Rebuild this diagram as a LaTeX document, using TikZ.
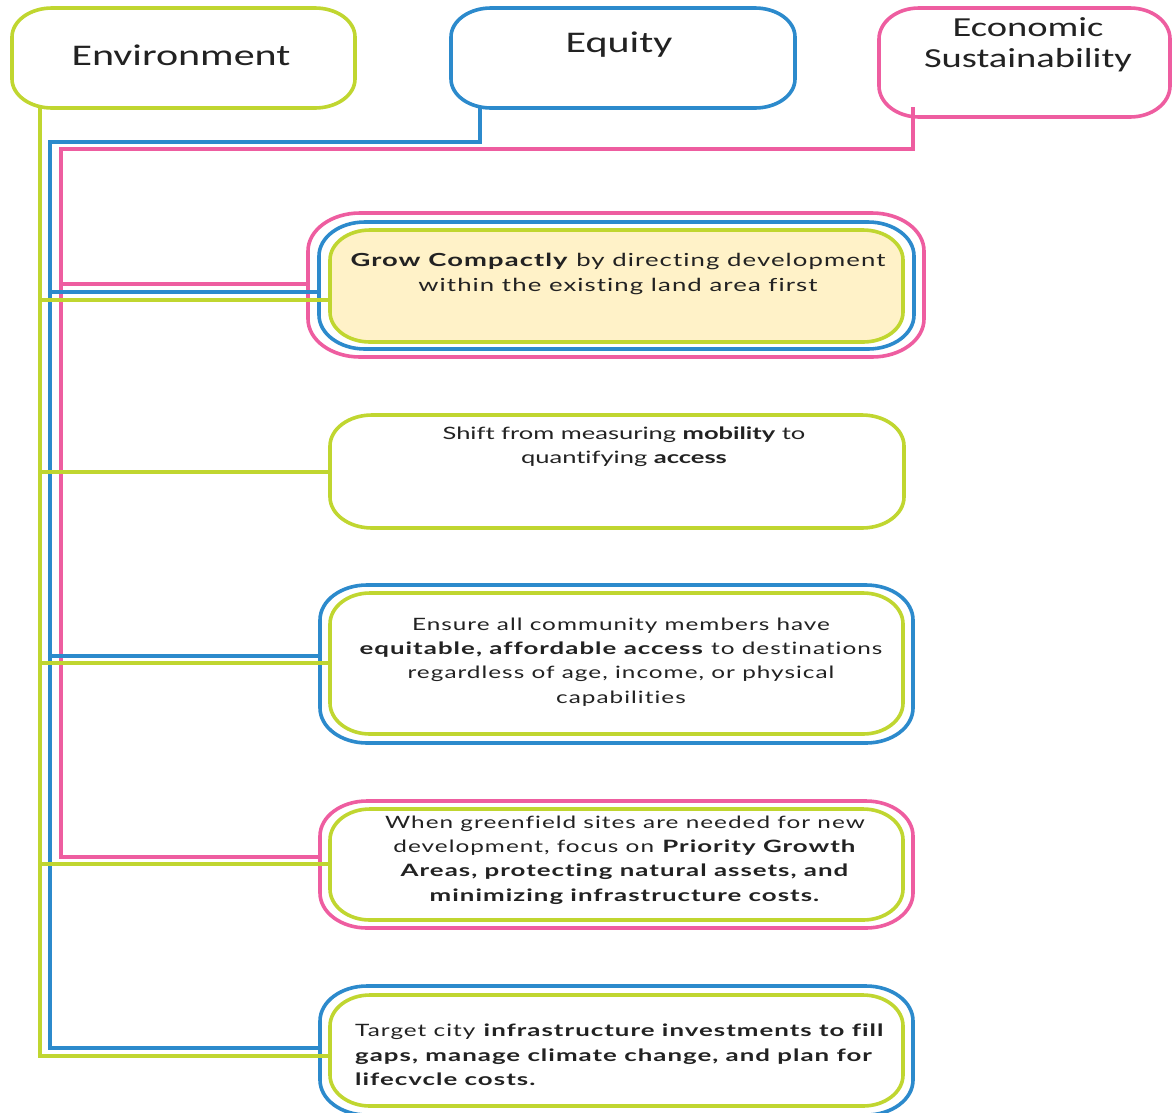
\documentclass[tikz,border=0pt]{standalone}
\usepackage{fontspec}
\setmainfont{Lato}
\newfontfamily\headfont{Carlito}[FakeStretch=1.4]
\newfontfamily\bodyfont{Lato}[FakeStretch=1.43, LetterSpace=6, Ligatures=NoCommon, BoldFeatures={FakeStretch=1.52}]
\newfontfamily\tightfont{Lato}[FakeStretch=1.5, Ligatures=NoCommon]
\definecolor{cgreen}{RGB}{192,214,48}
\definecolor{cblue}{RGB}{44,138,204}
\definecolor{cpink}{RGB}{238,93,160}
\definecolor{cfill}{RGB}{255,242,200}
\definecolor{ctext}{RGB}{34,34,34}
\tikzset{
  boxbase/.style={draw=none, inner sep=0pt, outer sep=0pt, anchor=north west},
  gline/.style={draw=cgreen, line width=3.6pt},
  bline/.style={draw=cblue, line width=3.6pt},
  pline/.style={draw=cpink, line width=3.6pt},
  headtxt/.style={font=\headfont\fontsize{30}{31}\selectfont, text=ctext, align=center, inner sep=0pt},
  bodytxt/.style={font=\bodyfont\fontsize{17}{24.3}\selectfont, text=ctext, align=center, inner sep=0pt},
  tighttxt/.style={font=\tightfont\fontsize{17}{24.3}\selectfont, text=ctext, align=center, inner sep=0pt},
}
% elliptical rounded outline around a named node: node, colour, fill, rx, ry
\newcommand\eboxdraw[5]{%
  \path[draw=#2, fill=#3, line width=3.6pt]
    ([xshift=#4]#1.north west) -- ([xshift=-#4]#1.north east)
    arc[start angle=90, end angle=0, x radius=#4, y radius=#5]
    -- ([yshift=#5]#1.south east)
    arc[start angle=0, end angle=-90, x radius=#4, y radius=#5]
    -- ([xshift=#4]#1.south west)
    arc[start angle=270, end angle=180, x radius=#4, y radius=#5]
    -- ([yshift=-#5]#1.north west)
    arc[start angle=180, end angle=90, x radius=#4, y radius=#5]
    -- cycle;}
\begin{document}
\begin{tikzpicture}[x=1pt,y=-1pt]
\useasboundingbox (0,0) rectangle (1172,1112);
% header boxes
\node[boxbase, minimum width=343pt, minimum height=100pt] (env) at (12,8) {};
\node[boxbase, minimum width=344pt, minimum height=100pt] (eq) at (451,8) {};
\node[boxbase, minimum width=291pt, minimum height=109pt] (eco) at (879,8) {};
\eboxdraw{env}{cgreen}{white}{40pt}{29pt}
\eboxdraw{eq}{cblue}{white}{40pt}{29pt}
\eboxdraw{eco}{cpink}{white}{40pt}{31pt}
\node[headtxt] (envt) at (181,55) {Environment};
\node[headtxt] (eqt) at (619,45) {Equity};
\node[headtxt, font=\headfont\fontsize{27.5}{31}\selectfont] (ecot) at (1028,45) {Economic\\Sustainability};
% trunk coordinates
\coordinate (gT) at (40,108);
\coordinate (bT) at (480,108);
\coordinate (pT) at (913,107);
% box 1
\node[boxbase, minimum width=616pt, minimum height=144pt] (b1p) at (308,213) {};
\node[boxbase, minimum width=595pt, minimum height=127pt] (b1b) at (319,222) {};
\node[boxbase, minimum width=573pt, minimum height=112pt] (b1g) at (330,230) {};
\eboxdraw{b1p}{cpink}{white}{52pt}{38pt}
\eboxdraw{b1b}{cblue}{white}{46pt}{34pt}
\eboxdraw{b1g}{cgreen}{cfill}{40pt}{30pt}
% box 2
\node[boxbase, minimum width=574pt, minimum height=113pt] (b2g) at (330,415) {};
\eboxdraw{b2g}{cgreen}{white}{42pt}{31pt}
% box 3
\node[boxbase, minimum width=593pt, minimum height=158pt] (b3b) at (320,585) {};
\node[boxbase, minimum width=573pt, minimum height=141pt] (b3g) at (330,593) {};
\eboxdraw{b3b}{cblue}{white}{47pt}{35pt}
\eboxdraw{b3g}{cgreen}{white}{40pt}{31pt}
% box 4
\node[boxbase, minimum width=593pt, minimum height=127pt] (b4p) at (320,801) {};
\node[boxbase, minimum width=573pt, minimum height=111pt] (b4g) at (330,809) {};
\eboxdraw{b4p}{cpink}{white}{47pt}{35pt}
\eboxdraw{b4g}{cgreen}{white}{40pt}{31pt}
% box 5
\node[boxbase, minimum width=593pt, minimum height=129pt] (b5b) at (320,986) {};
\node[boxbase, minimum width=573pt, minimum height=111pt] (b5g) at (330,995) {};
\eboxdraw{b5b}{cblue}{white}{47pt}{35pt}
\eboxdraw{b5g}{cgreen}{white}{40pt}{31pt}
% trunks
\draw[pline] (pT) -- (913,149) -- (61,149) -- (61,857) -- (61,857 -| b4p.west);
\draw[pline] (61,284) -- (61,284 -| b1p.west);
\draw[bline] (bT) -- (480,142) -- (50,142) -- (50,1048) -- (50,1048 -| b5b.west);
\draw[bline] (50,292) -- (50,292 -| b1b.west);
\draw[bline] (50,656) -- (50,656 -| b3b.west);
\draw[gline] (gT) -- (40,1056) -- (40,1056 -| b5g.west);
\draw[gline] (40,300) -- (40,300 -| b1g.west);
\draw[gline] (40,472) -- (40,472 -| b2g.west);
\draw[gline] (40,663) -- (40,663 -| b3g.west);
\draw[gline] (40,864) -- (40,864 -| b4g.west);
% texts
\node[bodytxt, font=\bodyfont\fontsize{18}{25.5}\selectfont] (t1) at (618,274) {\textbf{Grow Compactly} by directing development\\within the existing land area first};
\node[tighttxt] (t2) at (624,447) {Shift from measuring \textbf{mobility} to\\quantifying \textbf{access}};
\node[bodytxt] (t3) at (621,662) {Ensure all community members have\\\textbf{equitable, affordable access} to destinations\\regardless of age, income, or physical\\capabilities};
\node[bodytxt] (t4) at (625,860) {When greenfield sites are needed for new\\development, focus on \textbf{Priority Growth}\\\textbf{Areas, protecting natural assets, and}\\\textbf{minimizing infrastructure costs.}};
\node[bodytxt, align=left, anchor=west] (t5) at (355,1055) {Target city \textbf{infrastructure investments to fill}\\\textbf{gaps, manage climate change, and plan for}\\\textbf{lifecvcle costs.}};
\end{tikzpicture}
\end{document}
